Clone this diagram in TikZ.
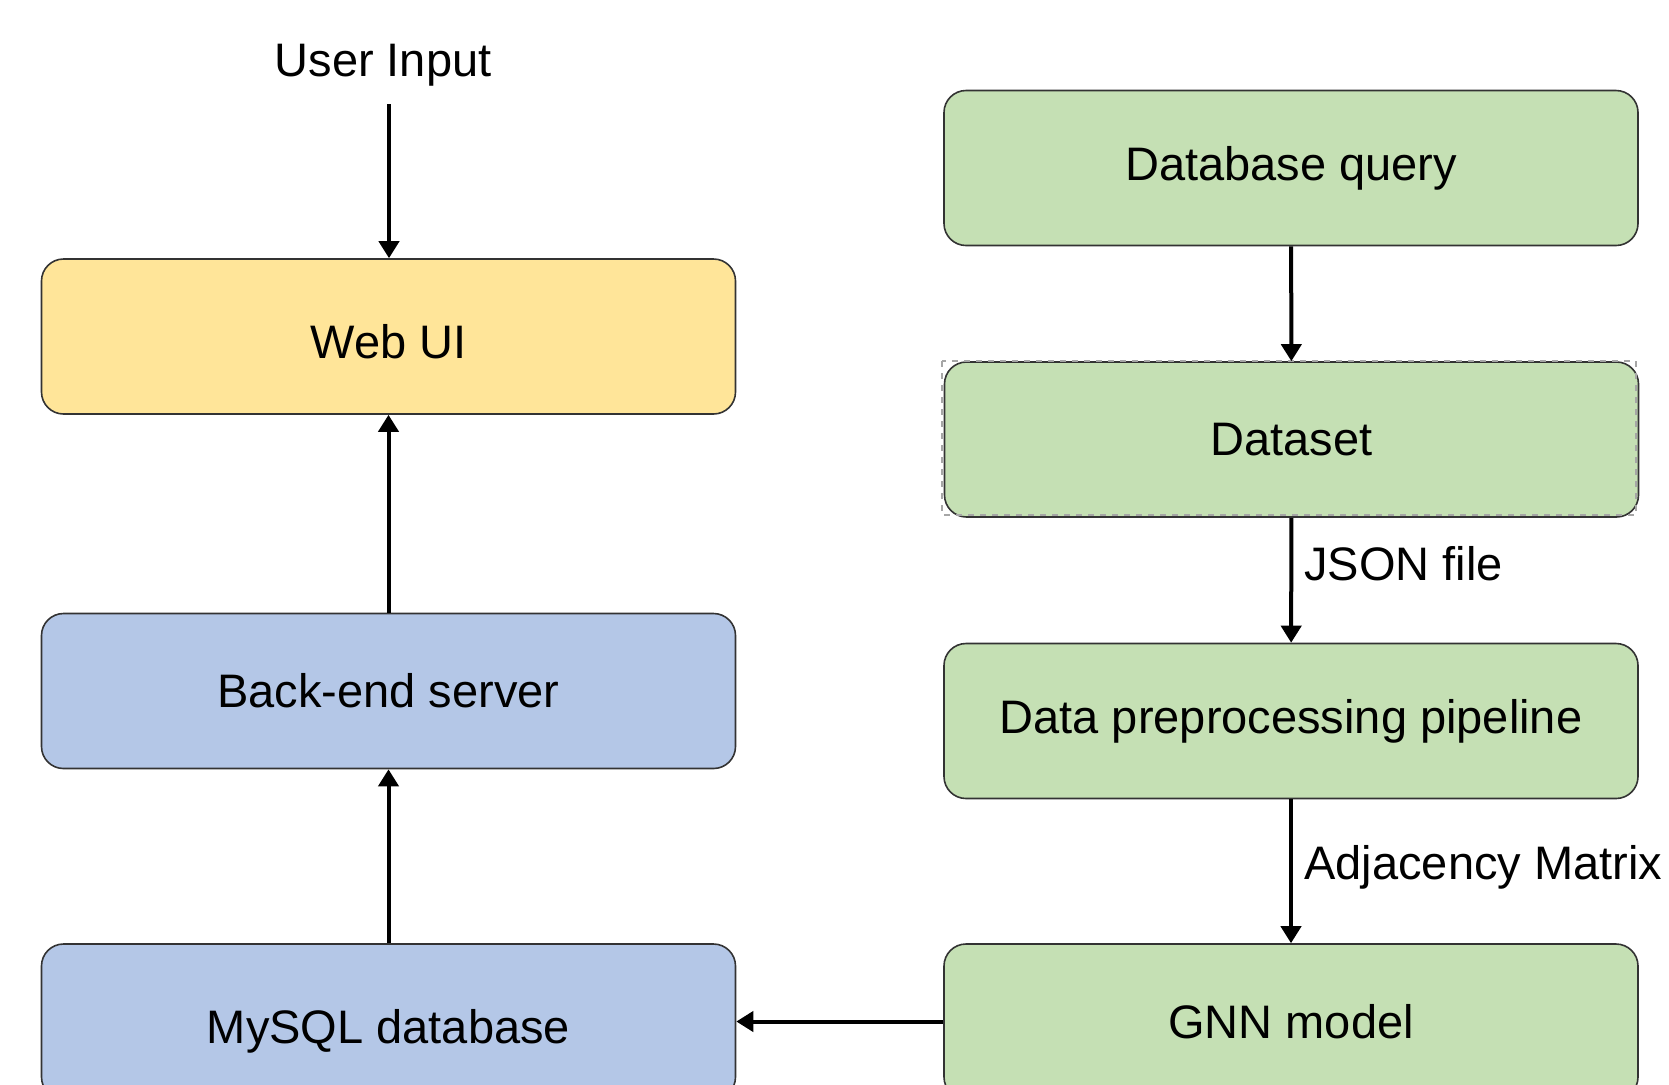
\documentclass[tikz,border=0pt]{standalone}
\usepackage{fontspec}
\setmainfont{Liberation Sans}
\usetikzlibrary{arrows.meta}

\definecolor{uiyellow}{HTML}{FFE599}
\definecolor{srvblue}{HTML}{B4C7E7}
\definecolor{mlgreen}{HTML}{C5E0B4}
\definecolor{boxline}{HTML}{333333}

\tikzset{
  block/.style={draw=boxline, line width=0.8pt, rounded corners=11pt,
    minimum width=347pt, minimum height=77.5pt, inner sep=0pt,
    font=\fontsize{23.5}{28}\selectfont},
  lowtext/.style={text height=22pt, text depth=0pt},
  flow/.style={line width=2pt, -{Triangle[length=8.5pt, width=10pt]}},
  lbl/.style={inner sep=0pt, font=\fontsize{23.5}{28}\selectfont}
}

\begin{document}
\begin{tikzpicture}[x=0.5pt, y=-0.5pt]
  \useasboundingbox (0,0) rectangle (1669,1084);
  \clip (0,0) rectangle (1669,1084);
  % left column: web side
  \node[lbl] (userinput) at (383,65) {User Input};
  \coordinate (userinput_end) at (389,104);
  \node[block, lowtext, fill=uiyellow] (webui) at (388.5,336.5) {Web UI};
  \node[block, fill=srvblue] (backend) at (388.5,691) {Back-end server};
  \node[block, lowtext, fill=srvblue] (mysql) at (388.5,1021.5) {MySQL database};
  % right column: model pipeline
  \node[block, fill=mlgreen] (dbquery) at (1291,168) {Database query};
  \node[block, fill=mlgreen] (dataset) at (1291.5,439.5) {Dataset};
  \draw[gray!70, dashed, line width=0.6pt] (942,361) rectangle (1636,515);
  \node[block, fill=mlgreen] (prep) at (1291,721) {Data preprocessing pipeline};
  \node[block, fill=mlgreen] (gnn) at (1291,1021.5) {GNN model};
  % draw arrows between blocks
  \draw[flow] (userinput_end) -- (webui.north -| userinput_end);
  \draw[flow] (backend) -- (webui);
  \draw[flow] (mysql) -- (backend);
  \draw[flow] (dbquery) -- (dataset);
  \draw[flow] (dataset) -- (prep);
  \draw[flow] (prep) -- (gnn);
  \draw[flow] (gnn) -- (mysql);
  % edge labels
  \node[lbl, anchor=west] (jsonlabel) at (1304,564) {JSON file};
  \node[lbl, anchor=west] (adjlabel) at (1304,867) {Adjacency Matrix};
\end{tikzpicture}
\end{document}
